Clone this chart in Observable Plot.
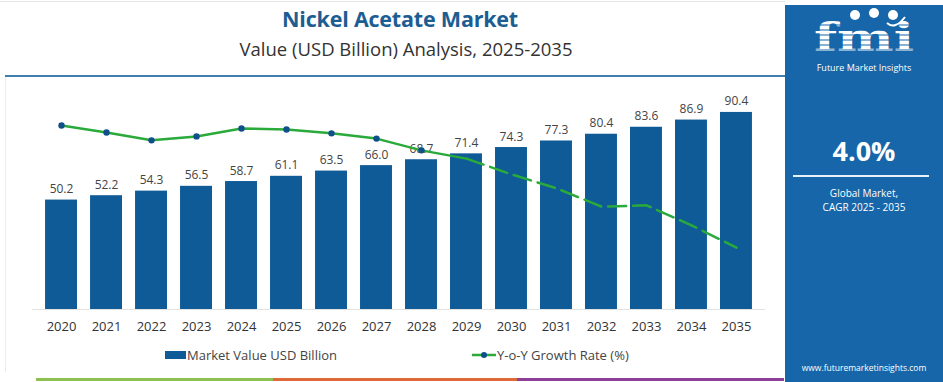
<!DOCTYPE html>
<html>
<head>
<meta charset="utf-8">
<script src="https://cdn.jsdelivr.net/npm/d3@7"></script>
<script src="https://cdn.jsdelivr.net/npm/@observablehq/plot@0.6"></script>
<style>
  html, body { margin: 0; padding: 0; background: #fff; }
  #wrap { position: relative; width: 943px; height: 382px; overflow: hidden; font-family: "Open Sans", sans-serif; background: #fff; }
  .abs { position: absolute; }
  #title { left: 0; width: 800px; top: 4px; text-align: center; font-size: 21.5px; font-weight: 700; color: #1c5d92; letter-spacing: -0.2px; }
  #subtitle { left: 0; width: 812px; top: 36px; text-align: center; font-size: 18.5px; color: #333; }
  #panel { left: 785px; top: 5px; width: 158px; height: 377px; background: #1766a9; color: #fff; text-align: center; }
  .legtext { font-size: 13px; color: #444; top: 346px; }
</style>
</head>
<body>
<div id="wrap">
  <div class="abs" style="left:0;top:1px;width:785px;height:1px;background:#e6e6e6"></div>
  <div id="title" class="abs">Nickel Acetate Market</div>
  <div id="subtitle" class="abs">Value (USD Billion) Analysis, 2025-2035</div>
  <div class="abs" style="left:5px;top:75px;width:780px;height:2px;background:#3f7fb0"></div>
  <div class="abs" style="left:5px;top:77px;width:1px;height:295px;background:#ececec"></div>
  <div id="bars" class="abs" style="left:0;top:80px"></div>
  <div id="line" class="abs" style="left:0;top:80px"></div>
  <div class="abs" style="left:165px;top:351px;width:21px;height:8px;background:#0f5b98"></div>
  <div class="abs legtext" style="left:187px">Market Value USD Billion</div>
  <svg class="abs" style="left:470px;top:349px" width="28" height="12"><line x1="2" y1="6" x2="26" y2="6" stroke="#2aaa3a" stroke-width="2.5"/><circle cx="14" cy="6" r="3" fill="#0f4f8a"/></svg>
  <div class="abs legtext" style="left:497px">Y-o-Y Growth Rate (%)</div>
  <div class="abs" style="left:36px;top:378px;width:237px;height:3px;background:#8cc152"></div>
  <div class="abs" style="left:273px;top:378px;width:244px;height:3px;background:#e0693a"></div>
  <div class="abs" style="left:517px;top:378px;width:267px;height:3px;background:#8e3f97"></div>
  <div id="panel" class="abs">
    <svg width="158" height="56" style="position:absolute;left:0;top:0">
      <text x="79" y="46" text-anchor="middle" font-family="DejaVu Serif" font-weight="700" font-size="40" fill="#fff" textLength="100" lengthAdjust="spacingAndGlyphs">fmi</text>
      <g stroke="#1766a9" stroke-width="1.2">
        <line x1="20" y1="20" x2="140" y2="20"/><line x1="20" y1="25" x2="140" y2="25"/>
        <line x1="20" y1="30" x2="140" y2="30"/><line x1="20" y1="35" x2="140" y2="35"/>
        <line x1="20" y1="40" x2="140" y2="40"/><line x1="20" y1="45" x2="140" y2="45"/>
      </g>
      <circle cx="70" cy="10" r="5" fill="#fff"/>
      <circle cx="89" cy="8" r="5" fill="#fff"/>
      <circle cx="108" cy="10" r="5" fill="#fff"/>
      <path d="M 102 18 Q 110 25 120 12" stroke="#fff" stroke-width="2" fill="none"/>
    </svg>
    <div class="abs" style="left:0;width:158px;top:57px;font-size:9px;line-height:11px">Future Market Insights</div>
    <div class="abs" style="left:0;width:158px;top:127px;font-size:27px;font-weight:700">4.0%</div>
    <div class="abs" style="left:8px;width:136px;top:170px;height:2px;background:#e8f0f8"></div>
    <div class="abs" style="left:0;width:158px;top:181px;font-size:10px;line-height:14px">Global Market,<br>CAGR 2025 - 2035</div>
    <div class="abs" style="left:0;width:158px;top:357px;font-size:8.5px">www.futuremarketinsights.com</div>
  </div>
</div>
<script>
const years = ["2020","2021","2022","2023","2024","2025","2026","2027","2028","2029","2030","2031","2032","2033","2034","2035"];
const values = [50.2,52.2,54.3,56.5,58.7,61.1,63.5,66.0,68.7,71.4,74.3,77.3,80.4,83.6,86.9,90.4];
const growth = [4.22,4.06,3.88,3.97,4.15,4.13,4.04,3.92,3.65,3.46,3.10,2.78,2.36,2.39,1.93,1.42];
const yTicks = [0,10,20,30,40,50,60,70,80,90,100];

const rows = years.map((y, i) => ({year: y, value: values[i], growth: growth[i], i}));
const common = {
  width: 785, height: 260,
  marginLeft: 32, marginRight: 20, marginTop: 11, marginBottom: 31,
  style: {fontFamily: "Open Sans, sans-serif", background: "transparent", overflow: "visible"}
};

const bars = Plot.plot({
  ...common,
  x: {type: "band", domain: years, padding: 0.29, round: false, label: null, tickSize: 0, tickPadding: 12},
  y: {domain: [0, 100], axis: null},
  marks: [
    Plot.ruleY(yTicks, {x1: years[0], stroke: "#f0f0f0", strokeWidth: 1, dx: -20}),
    Plot.ruleY([0], {stroke: "#e2e2e2"}),
    Plot.barY(rows, {x: "year", y: "value", fill: "#0f5b98"}),
    Plot.text(rows, {x: "year", y: "value", text: d => d.value.toFixed(1), lineAnchor: "bottom", dy: -7, fill: "#444", fontSize: 12}),
    Plot.axisX({tickSize: 0, tickPadding: 12, fontSize: 13, fill: "#333", label: null})
  ]
});
document.getElementById("bars").appendChild(bars);

const line = Plot.plot({
  ...common,
  x: {type: "band", domain: years, padding: 0.29, round: false, axis: null},
  y: {domain: [0, 5], axis: null},
  marks: [
    Plot.line(rows.filter(d => d.i <= 9), {x: "year", y: "growth", stroke: "#2aaa3a", strokeWidth: 2.5}),
    Plot.line(rows.filter(d => d.i >= 9), {x: "year", y: "growth", stroke: "#2aaa3a", strokeWidth: 2.5, strokeDasharray: "18,7"}),
    Plot.dot(rows.filter(d => d.i <= 8), {x: "year", y: "growth", r: 3.2, fill: "#0f4f8a"})
  ]
});
document.getElementById("line").appendChild(line);
</script>
</body>
</html>
